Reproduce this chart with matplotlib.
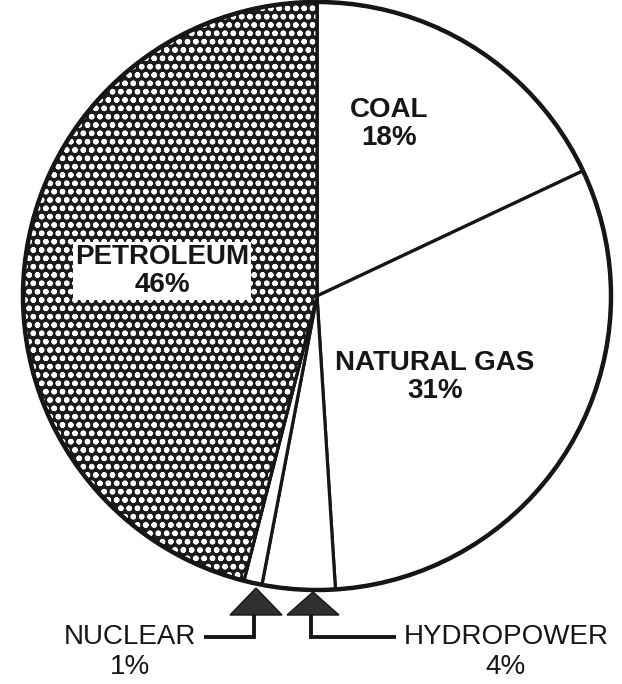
import matplotlib
matplotlib.use("Agg")
import matplotlib.pyplot as plt
from matplotlib.patches import Polygon, Wedge

labels = ["COAL", "NATURAL GAS", "HYDROPOWER", "NUCLEAR", "PETROLEUM"]
shares = [18, 31, 4, 1, 46]

W, H = 622, 684
plt.rcParams["hatch.linewidth"] = 1.6
fig = plt.figure(figsize=(W / 100, H / 100), dpi=100)
ax = fig.add_axes([0, 0, 1, 1])

cx, cy, R = 317, H - 296, 294
fonts = ["Liberation Sans", "DejaVu Sans"]
ink = "#161616"

faces = ["white", "white", "white", "white", "#1c1c1c"]
wedges, _ = ax.pie(shares, startangle=90, counterclock=False, center=(cx, cy),
                   radius=R, colors=faces,
                   wedgeprops=dict(edgecolor=ink, linewidth=2.3))
# speckled texture on petroleum
pw = wedges[4]
tex = Wedge((cx, cy), R, pw.theta1, pw.theta2, facecolor="none",
            edgecolor="white", hatch="oo", linewidth=0)
ax.add_patch(tex)
# redraw the petroleum boundaries on top of the texture
edge = Wedge((cx, cy), R, pw.theta1, pw.theta2, facecolor="none",
             edgecolor=ink, linewidth=2.3)
ax.add_patch(edge)
# outer circle
circ = plt.Circle((cx, cy), R, fill=False, edgecolor=ink, linewidth=3.2)
ax.add_patch(circ)

fs = 20
ax.text(389, H - 124, f"{labels[0]}\n{shares[0]}%", ha="center", va="center",
        fontsize=fs, fontweight="bold", family=fonts, color=ink, linespacing=1.1)
ax.text(435, H - 377, f"{labels[1]}\n{shares[1]}%", ha="center", va="center",
        fontsize=fs, fontweight="bold", family=fonts, color=ink, linespacing=1.1)
ax.text(162, H - 271, f"{labels[4]}\n{shares[4]}%", ha="center", va="center",
        fontsize=fs, fontweight="bold", family=fonts, color=ink, linespacing=1.1,
        bbox=dict(facecolor="white", edgecolor="none", pad=1.5))
ax.text(130, H - 652, f"{labels[3]}\n{shares[3]}%", ha="center", va="center",
        fontsize=fs, family=fonts, color=ink, linespacing=1.15)
ax.text(506, H - 652, f"{labels[2]}\n{shares[2]}%", ha="center", va="center",
        fontsize=fs, family=fonts, color=ink, linespacing=1.15)

# arrows
for apex_x, stem_x, apex_y, side_x in [(256, 254, 588, 204), (313, 311, 592, 396)]:
    tri = Polygon([(apex_x, H - apex_y), (apex_x - 26, H - 615), (apex_x + 26, H - 615)],
                  closed=True, facecolor="#303030", edgecolor=ink, linewidth=1)
    ax.add_patch(tri)
    ax.plot([stem_x, stem_x, side_x], [H - 615, H - 637, H - 637], color=ink,
            linewidth=2.8, solid_joinstyle="miter", solid_capstyle="butt")

ax.set_xlim(0, W)
ax.set_ylim(0, H)
ax.set_aspect("equal")
ax.axis("off")
fig.savefig("out.png", dpi=100, facecolor="white")
